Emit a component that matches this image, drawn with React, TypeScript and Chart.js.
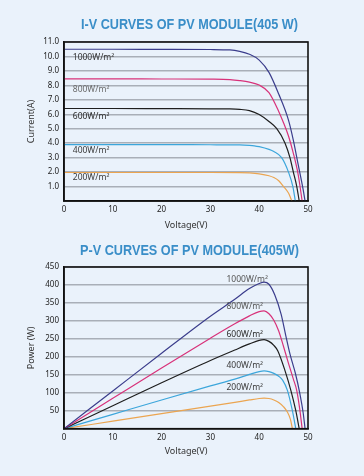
import React, { useEffect, useRef } from 'react';
import { Chart, registerables } from 'chart.js';

Chart.register(...registerables);

// ---------- DATA ----------
const irradianceLabels = ['1000W/m²', '800W/m²', '600W/m²', '400W/m²', '200W/m²'];
const xTicks = [0, 10, 20, 30, 40, 50];

// I-V curves (voltage V, current A)
const iv1000V = [0, 10, 20, 30, 34, 36, 38, 40, 42, 44, 46, 47, 48, 49, 49.4];
const iv1000I = [10.5, 10.5, 10.49, 10.48, 10.45, 10.35, 10.15, 9.75, 8.9, 7.4, 5.6, 4.2, 2.5, 0.8, 0];
const iv800V = [0, 10, 20, 30, 34, 36, 38, 40, 42, 44, 45, 46, 47, 48, 48.8];
const iv800I = [8.45, 8.45, 8.44, 8.43, 8.4, 8.33, 8.22, 8.02, 7.5, 6.2, 5.4, 4.5, 3.3, 1.8, 0];
const iv600V = [0, 10, 20, 30, 34, 36, 38, 40, 42, 43.6, 45.3, 46.3, 47, 47.7, 48.2];
const iv600I = [6.4, 6.4, 6.39, 6.38, 6.37, 6.34, 6.25, 5.98, 5.5, 5.0, 4.0, 3.0, 2.0, 1.0, 0];
const iv400V = [0, 10, 20, 30, 36, 38, 39, 40, 42, 43, 44.6, 46, 46.9, 47.4];
const iv400I = [3.9, 3.9, 3.9, 3.89, 3.88, 3.85, 3.82, 3.76, 3.57, 3.42, 3.0, 2.0, 1.0, 0];
const iv200V = [0, 10, 20, 30, 36, 38, 40, 42, 43, 44, 45, 46, 46.7];
const iv200I = [1.97, 1.97, 1.97, 1.97, 1.96, 1.94, 1.88, 1.75, 1.62, 1.4, 1.0, 0.55, 0];

// P-V curves (voltage V, power W)
const pv1000V = [0, 10, 20, 30, 35, 38, 40, 41, 42, 43.2, 44.5, 45.4, 46.3, 47.4, 48.3, 49.0, 49.4];
const pv1000P = [0, 105, 210, 313, 360, 390, 404, 408, 402, 372, 318, 262, 208, 155, 100, 45, 0];
const pv800V = [0, 10, 20, 30, 35, 38, 40, 41, 42, 43, 44, 45, 46, 47, 47.7, 48.3, 48.8];
const pv800P = [0, 84.5, 169, 252, 292, 314, 326, 328, 320, 302, 272, 228, 182, 138, 106, 55, 0];
const pv600V = [0, 10, 20, 30, 35, 38, 40, 41, 42, 43, 43.8, 45.3, 46.5, 47.5, 48.2];
const pv600P = [0, 64, 128, 190, 219, 236, 246, 248, 243, 232, 217, 161, 106, 50, 0];
const pv400V = [0, 10, 20, 30, 35, 38, 40, 41, 42, 43, 44, 44.8, 45.8, 46.8, 47.5];
const pv400P = [0, 40, 80, 119, 138, 151, 159, 161, 159, 154, 146, 135, 106, 50, 0];
const pv200V = [0, 10, 20, 30, 35, 38, 40, 41, 42, 43, 44, 45, 45.8, 46.4, 46.8];
const pv200P = [0, 21, 42, 63, 73.5, 80, 84, 85, 84, 80, 73, 61, 46, 26, 0];

// label anchors in data units
const ivLabelV = [1.8, 1.8, 1.8, 1.8, 1.8];
const ivLabelI = [9.93, 7.72, 5.87, 3.51, 1.64];
const pvLabelV = [33.3, 33.3, 33.3, 33.3, 33.3];
const pvLabelP = [416, 340, 262, 175, 114];

// ---------- STYLE ----------
const BG = '#EAF2FB';
const seriesColors = ['#3B3D8C', '#D8327A', '#1E1E1E', '#3CA6DB', '#EBA551'];
const ivLabelColors = ['#333333', '#6A6A6A', '#2A2A2A', '#3A3A3A', '#3A3A3A'];
const pvLabelColors = ['#555555', '#555555', '#2A2A2A', '#3A3A3A', '#3A3A3A'];
const TITLE_COLOR = '#3A8EC8';
const FONT = "'Noto Sans', 'DejaVu Sans', sans-serif";

const zip = (xs: number[], ys: number[]) => xs.map((x, i) => ({ x, y: ys[i] }));

const boxPlugin = {
  id: 'plotBox',
  afterDatasetsDraw(chart: any) {
    const { ctx, chartArea } = chart;
    ctx.save();
    ctx.strokeStyle = '#111111';
    ctx.lineWidth = 1.6;
    ctx.strokeRect(chartArea.left, chartArea.top, chartArea.right - chartArea.left, chartArea.bottom - chartArea.top);
    ctx.restore();
  },
};

const labelPlugin = {
  id: 'curveLabels',
  afterDatasetsDraw(chart: any, _args: any, opts: any) {
    const { ctx, scales } = chart;
    ctx.save();
    ctx.font = `8.5px ${FONT}`;
    ctx.textAlign = 'left';
    ctx.textBaseline = 'middle';
    (opts.xs as number[]).forEach((xv: number, i: number) => {
      ctx.fillStyle = opts.colors[i];
      ctx.fillText(opts.texts[i], scales.x.getPixelForValue(xv), scales.y.getPixelForValue(opts.ys[i]));
    });
    ctx.restore();
  },
};

// condensed centred heading
const headingPlugin = {
  id: 'heading',
  afterDraw(chart: any, _args: any, opts: any) {
    const { ctx } = chart;
    ctx.save();
    ctx.font = "bold 15px 'Liberation Sans', Arial, sans-serif";
    ctx.fillStyle = TITLE_COLOR;
    ctx.textBaseline = 'alphabetic';
    ctx.textAlign = 'center';
    const w = ctx.measureText(opts.text).width;
    const sx = opts.width / w;
    ctx.translate(opts.cx, opts.baseline);
    ctx.scale(sx, 1);
    ctx.fillText(opts.text, 0, 0);
    ctx.restore();
  },
};

function buildConfig(p: {
  title: string;
  titleBaseline: number;
  titleWidth: number;
  topPad: number;
  yTitle: string;
  yMax: number;
  yStep: number;
  yFmt: (v: number) => string;
  xs: number[][];
  ys: number[][];
  xHeight: number;
  xTitlePadBottom: number;
  labelXs: number[];
  labelYs: number[];
  labelColors: string[];
}): any {
  return {
    type: 'line',
    data: {
      datasets: p.xs.map((xv, i) => ({
        label: irradianceLabels[i],
        data: zip(xv, p.ys[i]),
        borderColor: seriesColors[i],
        borderWidth: 1.2,
        pointRadius: 0,
        fill: false,
        cubicInterpolationMode: 'monotone',
      })),
    },
    options: {
      animation: false,
      responsive: true,
      maintainAspectRatio: false,
      layout: { padding: { left: 0, right: 56, top: p.topPad, bottom: 0 } },
      plugins: {
        legend: { display: false },
        tooltip: { enabled: false },
        title: { display: false },
        heading: { text: p.title, cx: 189.5, baseline: p.titleBaseline, width: p.titleWidth },
        curveLabels: { xs: p.labelXs, ys: p.labelYs, colors: p.labelColors, texts: irradianceLabels },
      },
      scales: {
        x: {
          type: 'linear',
          min: 0,
          max: 50,
          afterBuildTicks: (s: any) => { s.ticks = xTicks.map((v) => ({ value: v })); },
          afterFit: (s: any) => { s.height = p.xHeight; },
          grid: { display: false, drawTicks: false },
          border: { display: true, color: '#111111', width: 1.6 },
          ticks: { color: '#222222', font: { family: FONT, size: 8 }, padding: 4, maxRotation: 0 },
          title: {
            display: true,
            text: 'Voltage(V)',
            color: '#333333',
            font: { family: FONT, size: 9 },
            padding: { top: 0, bottom: p.xTitlePadBottom },
          },
        },
        y: {
          type: 'linear',
          min: 0,
          max: p.yMax,
          ticks: {
            stepSize: p.yStep,
            color: '#222222',
            font: { family: FONT, size: 8 },
            padding: 5,
            callback: (v: number) => (v === 0 ? '' : p.yFmt(v)),
          },
          afterFit: (s: any) => { s.width = 64; },
          grid: { color: '#A9AFB8', lineWidth: 1.5, drawTicks: false },
          border: { display: true, color: '#111111', width: 1.6 },
          title: {
            display: true,
            text: p.yTitle,
            color: '#333333',
            font: { family: FONT, size: 9 },
            padding: { top: 25.6, bottom: 0 },
          },
        },
      },
    },
    plugins: [boxPlugin, labelPlugin, headingPlugin],
  };
}

export default function App() {
  const ref1 = useRef<HTMLCanvasElement>(null);
  const ref2 = useRef<HTMLCanvasElement>(null);

  useEffect(() => {
    const c1 = new Chart(
      ref1.current!,
      buildConfig({
        title: 'I-V CURVES OF PV MODULE(405 W)',
        titleBaseline: 29.3,
        titleWidth: 217,
        topPad: 42,
        yTitle: 'Current(A)',
        yMax: 11,
        yStep: 1,
        yFmt: (v) => v.toFixed(1),
        xs: [iv1000V, iv800V, iv600V, iv400V, iv200V],
        ys: [iv1000I, iv800I, iv600I, iv400I, iv200I],
        xHeight: 35,
        xTitlePadBottom: 5.6,
        labelXs: ivLabelV,
        labelYs: ivLabelI,
        labelColors: ivLabelColors,
      })
    );
    const c2 = new Chart(
      ref2.current!,
      buildConfig({
        title: 'P-V CURVES OF PV MODULE(405W)',
        titleBaseline: 19,
        titleWidth: 219,
        topPad: 31,
        yTitle: 'Power (W)',
        yMax: 450,
        yStep: 50,
        yFmt: (v) => String(v),
        xs: [pv1000V, pv800V, pv600V, pv400V, pv200V],
        ys: [pv1000P, pv800P, pv600P, pv400P, pv200P],
        xHeight: 47.3,
        xTitlePadBottom: 19.6,
        labelXs: pvLabelV,
        labelYs: pvLabelP,
        labelColors: pvLabelColors,
      })
    );
    return () => {
      c1.destroy();
      c2.destroy();
    };
  }, []);

  return (
    <div style={{ position: 'fixed', left: 0, top: 0, width: 364, height: 476, background: BG }}>
      <div style={{ position: 'absolute', left: 0, top: 0, width: 364, height: 236 }}>
        <canvas ref={ref1} />
      </div>
      <div style={{ position: 'absolute', left: 0, top: 236, width: 364, height: 240 }}>
        <canvas ref={ref2} />
      </div>
    </div>
  );
}
